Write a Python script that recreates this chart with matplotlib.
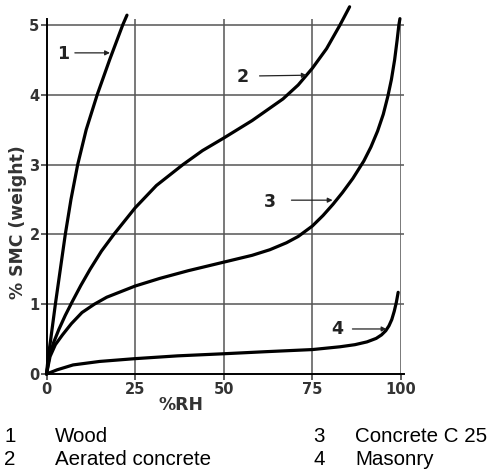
import numpy as np
import matplotlib
matplotlib.use('Agg')
import matplotlib.pyplot as plt

# curves (%RH, % SMC by weight)
wood_x = [0, 0.5, 1.2, 2.5, 3.9, 5.3, 6.9, 8.8, 11.2, 14.3, 17.8, 21.5, 22.7]
wood_y = [0, 0.25, 0.5, 1.0, 1.5, 2.0, 2.5, 3.0, 3.5, 4.0, 4.5, 5.0, 5.14]

aer_x = [0, 0.8, 2.0, 3.5, 5.3, 7.3, 9.7, 12.3, 15.5, 19.0, 25.0, 31.0, 38.5, 44.0,
         50.0, 58.0, 66.7, 71.0, 75.0, 79.0, 82.8, 85.5]
aer_y = [0, 0.25, 0.45, 0.64, 0.84, 1.04, 1.27, 1.5, 1.76, 2.0, 2.38, 2.7, 3.0, 3.2,
         3.38, 3.63, 3.94, 4.14, 4.38, 4.66, 5.0, 5.26]

con_x = [0, 1.0, 2.5, 4.5, 7.0, 10.0, 13.5, 17.0, 21.0, 25.0, 32.0, 40.0, 49.0, 58.0,
         63.0, 67.7, 71.0, 75.0, 78.0, 80.8, 83.5, 86.4, 89.5, 91.5, 93.4, 95.0,
         96.3, 97.3, 98.2, 98.9, 99.4, 99.7]
con_y = [0, 0.25, 0.42, 0.56, 0.72, 0.88, 1.0, 1.1, 1.18, 1.26, 1.37, 1.48, 1.59, 1.7,
         1.78, 1.88, 1.97, 2.12, 2.27, 2.43, 2.6, 2.8, 3.05, 3.25, 3.48, 3.72,
         3.98, 4.22, 4.5, 4.78, 5.0, 5.09]

mas_x = [0, 3.0, 7.5, 15.0, 25.0, 37.0, 50.0, 62.0, 75.0, 82.8, 87.0, 90.4, 93.0, 94.5,
         95.7, 96.6, 97.4, 98.1, 98.7, 99.2]
mas_y = [0, 0.06, 0.13, 0.18, 0.22, 0.26, 0.29, 0.32, 0.35, 0.39, 0.42, 0.46, 0.51, 0.56,
         0.62, 0.69, 0.78, 0.9, 1.03, 1.17]

curves = [(wood_x, wood_y), (aer_x, aer_y), (con_x, con_y), (mas_x, mas_y)]

# curve number labels: text position, arrow start, arrow tip
labels = ['1', '2', '3', '4']
label_pos = [(4.6, 4.58), (55.4, 4.25), (62.9, 2.47), (82.1, 0.645)]
arrow_from = [(8.0, 4.6), (60.1, 4.27), (69.1, 2.49), (86.3, 0.645)]
arrow_to = [(17.9, 4.6), (73.4, 4.28), (80.7, 2.49), (95.9, 0.645)]

legend_num = ['1', '2', '3', '4']
legend_txt = ['Wood', 'Aerated concrete', 'Concrete C 25', 'Masonry']

xticks = [0, 25, 50, 75, 100]
yticks = [0, 1, 2, 3, 4, 5]

W, H = 494, 472
fig = plt.figure(figsize=(W / 100, H / 100), dpi=100)
ax = fig.add_axes([46.5 / W, (H - 374) / H, 354.5 / W, 370 / H])
ax.set_xlim(0, 100)
ax.set_ylim(0, 5.3)

# grid
ax.vlines(xticks[1:], 0, 5.08, color='#555555', lw=1.1, zorder=1)
ax.hlines(yticks[1:], 0, 100.8, color='#555555', lw=1.1, zorder=1, clip_on=False)

for x, y in curves:
    ax.plot(x, y, color='black', lw=2.3, solid_capstyle='round',
            solid_joinstyle='round', clip_on=False, zorder=3)

for t, p, a, b in zip(labels, label_pos, arrow_from, arrow_to):
    ax.text(p[0], p[1], t, ha='center', va='center', fontsize=12.5,
            fontweight='bold', color='#222222')
    ax.annotate('', xy=b, xytext=a,
                arrowprops=dict(arrowstyle='-|>', lw=0.9, color='#222222',
                                mutation_scale=7, shrinkA=0, shrinkB=0))

for s in ['top', 'right']:
    ax.spines[s].set_visible(False)
ax.spines['left'].set_bounds(0, 5.08)
ax.spines['left'].set_linewidth(1.4)
ax.spines['bottom'].set_bounds(0, 100.8)
ax.spines['bottom'].set_linewidth(1.4)

ax.set_xticks(xticks)
ax.set_yticks(yticks)
ax.tick_params(length=4, width=1.1, color='#333333', labelsize=10.5,
               labelcolor='#333333')
ax.tick_params(axis='y', pad=1)
ax.tick_params(axis='x', pad=2)
for lab in ax.get_xticklabels() + ax.get_yticklabels():
    lab.set_fontweight('bold')

fig.text(181 / W, 1 - 405 / H, '%RH', ha='center', va='center',
         fontsize=12.4, fontweight='bold', color='#333333')
fig.text(18 / W, 1 - 222 / H, '% SMC (weight)', ha='center', va='center',
         rotation=90, fontsize=12.4, fontweight='bold', color='#333333')

# legend below the chart
num_x = [4, 4, 313, 313]
txt_x = [55, 55, 355, 355]
row_y = [442, 465, 442, 465]
for n, t, nx, tx, ry in zip(legend_num, legend_txt, num_x, txt_x, row_y):
    fig.text(nx / W, 1 - ry / H, n, ha='left', va='baseline',
             fontsize=14.8, family='Liberation Sans')
    fig.text(tx / W, 1 - ry / H, t, ha='left', va='baseline',
             fontsize=14.8, family='Liberation Sans')

plt.savefig('out.png', dpi=100)
